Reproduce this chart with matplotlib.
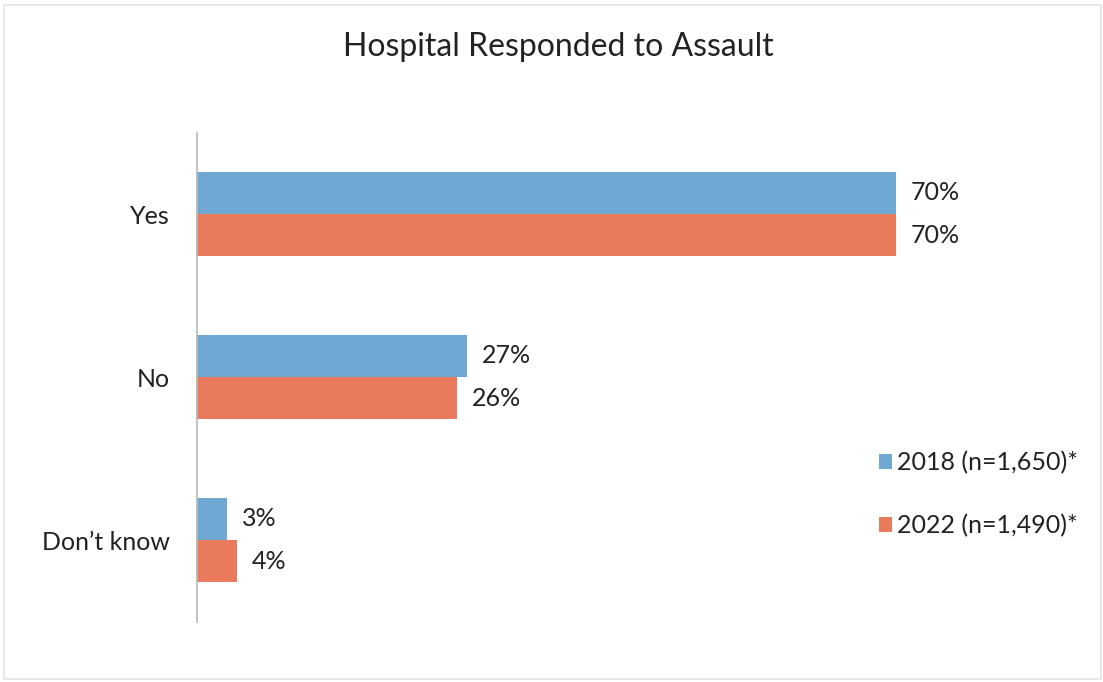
import matplotlib.pyplot as plt
import numpy as np
from matplotlib.patches import Rectangle

plt.rcParams['font.family'] = ['Lato', 'DejaVu Sans']

categories = ["Yes", "No", "Don\u2019t know"]
values_2018 = [70, 27, 3]
values_2022 = [70, 26, 4]
series_labels = ["2018 (n=1,650)*", "2022 (n=1,490)*"]
colors = ["#6fa8d2", "#ea7a5c"]

fig = plt.figure(figsize=(11.03, 6.82), dpi=100)
fig.patch.set_facecolor("white")

# faint outer frame of the chart area
fig.add_artist(Rectangle((0.004, 0.004), 0.994, 0.989, transform=fig.transFigure,
                         fill=False, edgecolor="#e4e4e4", linewidth=1.2))

ax = fig.add_axes([197 / 1103, 1 - 621.5 / 682, 699 / 1103, 489 / 682])

y = np.arange(len(categories))
h = 0.258
bars1 = ax.barh(y - h / 2, values_2018, height=h, color=colors[0], label=series_labels[0])
bars2 = ax.barh(y + h / 2, values_2022, height=h, color=colors[1], label=series_labels[1])

for bars, vals in [(bars1, values_2018), (bars2, values_2022)]:
    for b, v in zip(bars, vals):
        ax.text(v + 1.5, b.get_y() + b.get_height() / 2, f"{v}%",
                va="center", ha="left", fontsize=18, color="#222222", clip_on=False)

ax.set_xlim(0, 70)
ax.set_ylim(2.5, -0.5)
ax.set_yticks(y)
ax.set_yticklabels(categories, fontsize=18, color="#222222")
ax.tick_params(axis="y", length=0, pad=19.5)
ax.set_xticks([])
for s in ["top", "right", "bottom"]:
    ax.spines[s].set_visible(False)
ax.spines["left"].set_color("#b8b8b8")
ax.spines["left"].set_linewidth(1.2)

fig.text(0.506, 0.931, "Hospital Responded to Assault", ha="center", va="center",
         fontsize=23, color="#222222")

leg = fig.legend(handles=[bars1, bars2], labels=series_labels, loc="center left",
                 bbox_to_anchor=(856 / 1103, 1 - 494 / 682), frameon=False,
                 fontsize=18, handlelength=0.55, handleheight=0.55,
                 handletextpad=0.2, labelspacing=1.6, labelcolor="#222222")

fig.savefig("out.png", dpi=100)
